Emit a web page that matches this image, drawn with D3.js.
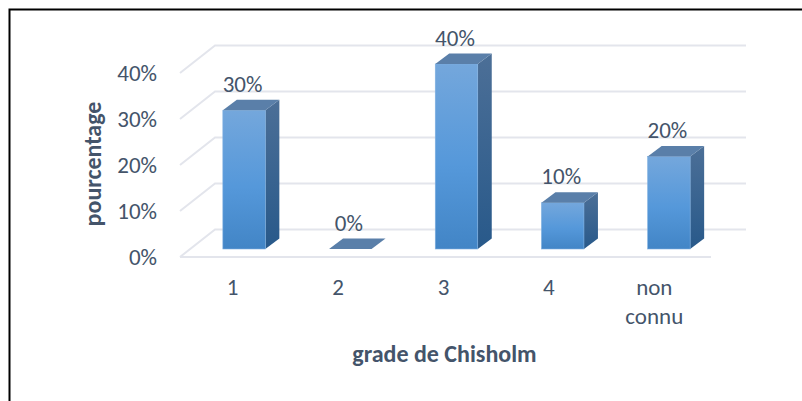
<!DOCTYPE html>
<html><head><meta charset="utf-8">
<script src="https://cdn.jsdelivr.net/npm/d3@7/dist/d3.min.js"></script>
<style>html,body{margin:0;padding:0;background:#fff}svg{display:block}</style>
</head><body><svg id="c" width="802" height="401"></svg>
<script>
const categories = ["1","2","3","4","non connu"];
const values = [30,0,40,10,20];
const yTicks = [0,10,20,30,40];
const xTitle = "grade de Chisholm";
const yTitle = "pourcentage";

const svg = d3.select("#c");
const font = "Carlito, 'Open Sans', 'Noto Sans', sans-serif";
const textCol = "#44546a";
const gridCol = "#e3e5ec";
const dx = 14, dy = -10.5;
const wallDx = 35, wallDy = -27.5;

const defs = svg.append("defs");
const g1 = defs.append("linearGradient").attr("id","front").attr("x1",0).attr("x2",0).attr("y1",0).attr("y2",1);
g1.append("stop").attr("offset","0").attr("stop-color","#74a7dc");
g1.append("stop").attr("offset","0.55").attr("stop-color","#5598da");
g1.append("stop").attr("offset","1").attr("stop-color","#4285c6");
const g2 = defs.append("linearGradient").attr("id","side").attr("x1",0).attr("x2",0).attr("y1",0).attr("y2",1);
g2.append("stop").attr("offset","0").attr("stop-color","#4c6f97");
g2.append("stop").attr("offset","1").attr("stop-color","#28598a");

svg.append("path").attr("d","M9.5,401V9.5H802").attr("fill","none").attr("stroke","#000").attr("stroke-width",2);

const y = d3.scaleLinear().domain([0,40]).range([257,73]);
const x = d3.scaleBand().domain(categories).range([180,711]);
const xLab = d3.scaleBand().domain(categories).range([180,707]);
const barW = 42.5;
const barOffset = 11;
const baseFront = 249;
const yBar = d3.scaleLinear().domain([0,40]).range([baseFront,64]);

yTicks.forEach(t=>{
  const yy = y(t);
  svg.append("path").attr("d",`M180,${yy}L${180+wallDx},${yy+wallDy}L${711+wallDx},${yy+wallDy}`)
    .attr("fill","none").attr("stroke",gridCol).attr("stroke-width",2);
});
svg.append("line").attr("x1",180).attr("x2",711).attr("y1",y(0)).attr("y2",y(0)).attr("stroke",gridCol).attr("stroke-width",2);

const bars = svg.selectAll("g.bar").data(categories.map((c,i)=>({c,v:values[i]}))).join("g").attr("class","bar");
bars.each(function(d){
  const g = d3.select(this);
  const x0 = x(d.c)+x.bandwidth()/2+barOffset-barW/2, x1 = x0+barW;
  const yt = yBar(d.v);
  if(d.v>0){
    g.append("path").attr("d",`M${x1},${yt}L${x1+dx},${yt+dy}V${baseFront+dy}L${x1},${baseFront}Z`).attr("fill","url(#side)");
    g.append("rect").attr("x",x0).attr("y",yt).attr("width",barW).attr("height",baseFront-yt).attr("fill","url(#front)").attr("stroke","#7fb0e0").attr("stroke-width",0.6);
  }
  g.append("path").attr("d",`M${x0},${yt}L${x0+dx},${yt+dy}H${x1+dx}L${x1},${yt}Z`).attr("fill","#5a7fa9");
  g.append("text").attr("x",x0+barW/2-1.5).attr("y",yt+dy-8).attr("text-anchor","middle")
    .attr("font-family",font).attr("font-size",23).attr("fill",textCol).text(d.v+"%");
});

svg.selectAll("text.yt").data(yTicks).join("text").attr("class","yt")
  .attr("x",157).attr("y",t=>y(t)+8).attr("text-anchor","end")
  .attr("font-family",font).attr("font-size",23).attr("fill",textCol).text(t=>t+"%");

categories.forEach(c=>{
  const cx = xLab(c)+xLab.bandwidth()/2;
  c.split(" ").forEach((p,i)=>{
    svg.append("text").attr("x",cx).attr("y",295+i*29).attr("text-anchor","middle")
      .attr("font-family",font).attr("font-size",23).attr("fill",textCol).text(p);
  });
});

svg.append("text").attr("x",444.5).attr("y",362).attr("text-anchor","middle")
  .attr("font-family",font).attr("font-size",24).attr("font-weight","bold").attr("fill",textCol).text(xTitle);
svg.append("text").attr("transform","translate(100.5,164) rotate(-90)").attr("text-anchor","middle")
  .attr("font-family",font).attr("font-size",24).attr("font-weight","bold").attr("fill",textCol).text(yTitle);
</script></body></html>
